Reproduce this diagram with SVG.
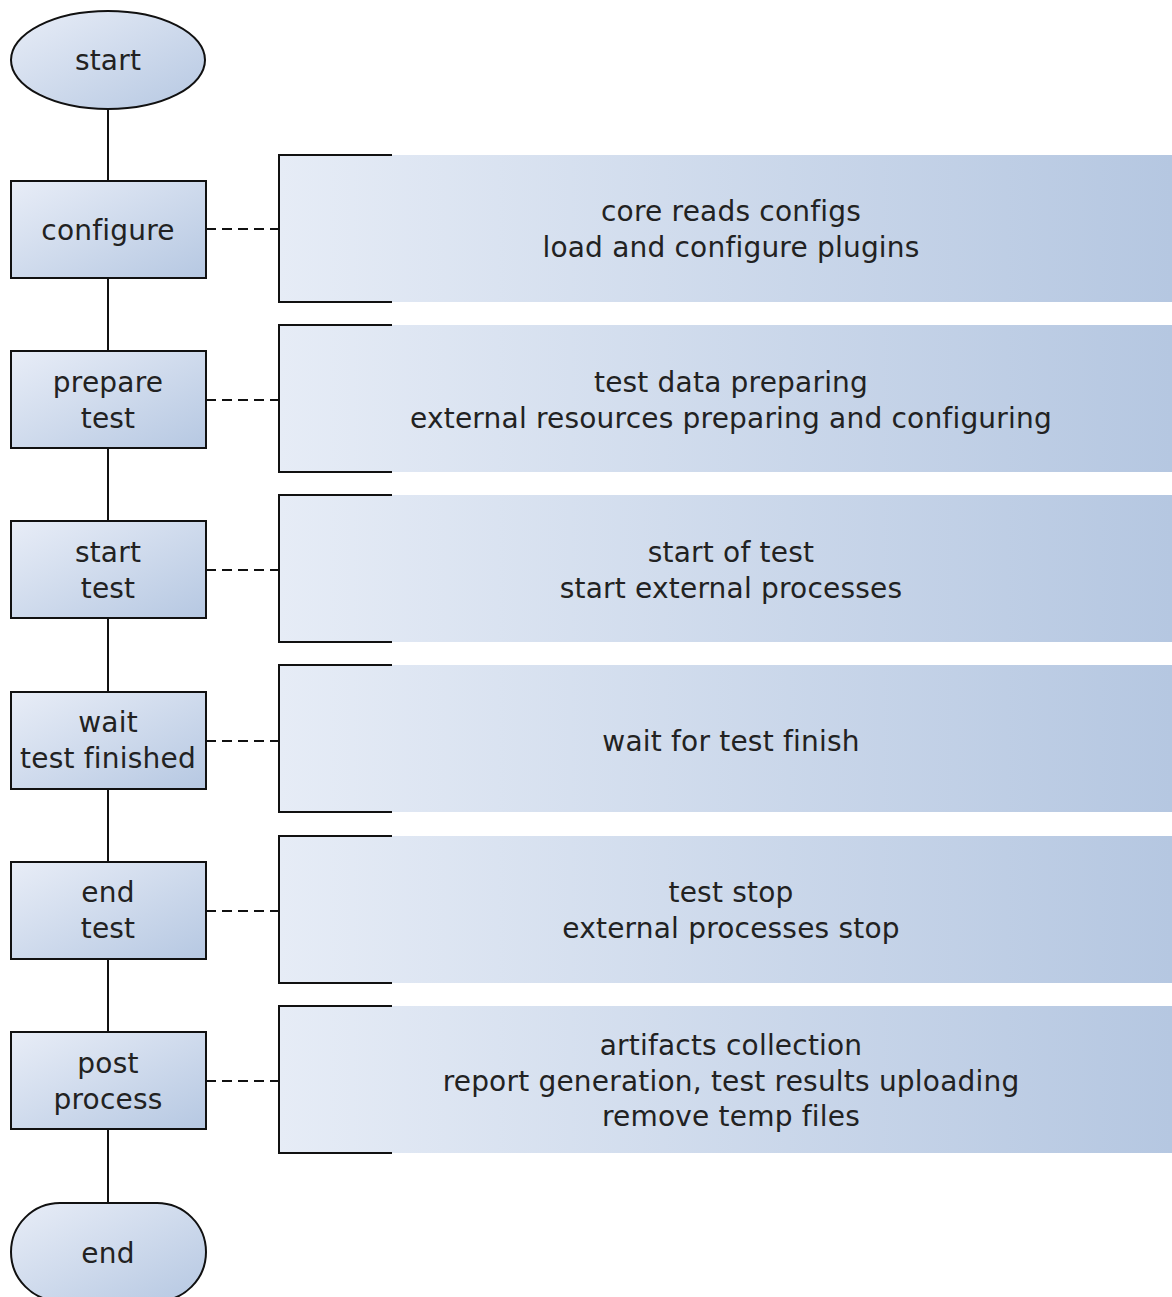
<svg xmlns="http://www.w3.org/2000/svg" width="1172" height="1297" viewBox="0 0 1172 1297">
<defs>
<linearGradient id="ng" x1="0" y1="0" x2="1" y2="1">
<stop offset="0" stop-color="#e8edf7"/>
<stop offset="1" stop-color="#b6c8e2"/>
</linearGradient>
<linearGradient id="ag" x1="0" y1="0" x2="1" y2="0">
<stop offset="0" stop-color="#e6ecf6"/>
<stop offset="1" stop-color="#b5c7e1"/>
</linearGradient>
<style>
.n{fill:url(#ng);stroke:#111;stroke-width:2}
.a{fill:url(#ag)}
.b{fill:none;stroke:#111;stroke-width:2}
.l{stroke:#111;stroke-width:2;fill:none}
.d{stroke:#111;stroke-width:2;stroke-dasharray:10 6;fill:none}
text{font-family:"DejaVu Sans","Liberation Sans",sans-serif;font-size:28px;letter-spacing:0.2px;fill:#222;text-anchor:middle}
</style>
</defs>
<rect width="1172" height="1297" fill="#fff"/>
<g id="connectors">
<line class="l" x1="108" y1="108" x2="108" y2="181"/>
<line class="l" x1="108" y1="278" x2="108" y2="351"/>
<line class="l" x1="108" y1="448" x2="108" y2="521"/>
<line class="l" x1="108" y1="618" x2="108" y2="692"/>
<line class="l" x1="108" y1="789" x2="108" y2="862"/>
<line class="l" x1="108" y1="959" x2="108" y2="1032"/>
<line class="l" x1="108" y1="1129" x2="108" y2="1203"/>
<line class="d" x1="206" y1="229" x2="279" y2="229"/>
<line class="d" x1="206" y1="400" x2="279" y2="400"/>
<line class="d" x1="206" y1="570" x2="279" y2="570"/>
<line class="d" x1="206" y1="741" x2="279" y2="741"/>
<line class="d" x1="206" y1="911" x2="279" y2="911"/>
<line class="d" x1="206" y1="1081" x2="279" y2="1081"/>
</g>
<g id="start">
<ellipse class="n" cx="108" cy="60" rx="97" ry="49"/>
<text x="108" y="70">start</text>
</g>
<g id="configure">
<rect class="n" x="11" y="181" width="195" height="97"/>
<text x="108" y="240">configure</text>
</g>
<g id="prepare">
<rect class="n" x="11" y="351" width="195" height="97"/>
<text x="108" y="392">prepare</text>
<text x="108" y="428">test</text>
</g>
<g id="starttest">
<rect class="n" x="11" y="521" width="195" height="97"/>
<text x="108" y="562">start</text>
<text x="108" y="598">test</text>
</g>
<g id="wait">
<rect class="n" x="11" y="692" width="195" height="97"/>
<text x="108" y="732">wait</text>
<text x="108" y="768">test finished</text>
</g>
<g id="endtest">
<rect class="n" x="11" y="862" width="195" height="97"/>
<text x="108" y="902">end</text>
<text x="108" y="938">test</text>
</g>
<g id="post">
<rect class="n" x="11" y="1032" width="195" height="97"/>
<text x="108" y="1073">post</text>
<text x="108" y="1109">process</text>
</g>
<g id="end">
<rect class="n" x="11" y="1203" width="195" height="98" rx="49" ry="49"/>
<text x="108" y="1263">end</text>
</g>
<g id="note1">
<rect class="a" x="279" y="155" width="893" height="147"/>
<path class="b" d="M392,155H279V302H392"/>
<text x="731" y="221">core reads configs</text>
<text x="731" y="257">load and configure plugins</text>
</g>
<g id="note2">
<rect class="a" x="279" y="325" width="893" height="147"/>
<path class="b" d="M392,325H279V472H392"/>
<text x="731" y="392">test data preparing</text>
<text x="731" y="428">external resources preparing and configuring</text>
</g>
<g id="note3">
<rect class="a" x="279" y="495" width="893" height="147"/>
<path class="b" d="M392,495H279V642H392"/>
<text x="731" y="562">start of test</text>
<text x="731" y="598">start external processes</text>
</g>
<g id="note4">
<rect class="a" x="279" y="665" width="893" height="147"/>
<path class="b" d="M392,665H279V812H392"/>
<text x="731" y="751">wait for test finish</text>
</g>
<g id="note5">
<rect class="a" x="279" y="836" width="893" height="147"/>
<path class="b" d="M392,836H279V983H392"/>
<text x="731" y="902">test stop</text>
<text x="731" y="938">external processes stop</text>
</g>
<g id="note6">
<rect class="a" x="279" y="1006" width="893" height="147"/>
<path class="b" d="M392,1006H279V1153H392"/>
<text x="731" y="1055">artifacts collection</text>
<text x="731" y="1091">report generation, test results uploading</text>
<text x="731" y="1126">remove temp files</text>
</g>
</svg>
